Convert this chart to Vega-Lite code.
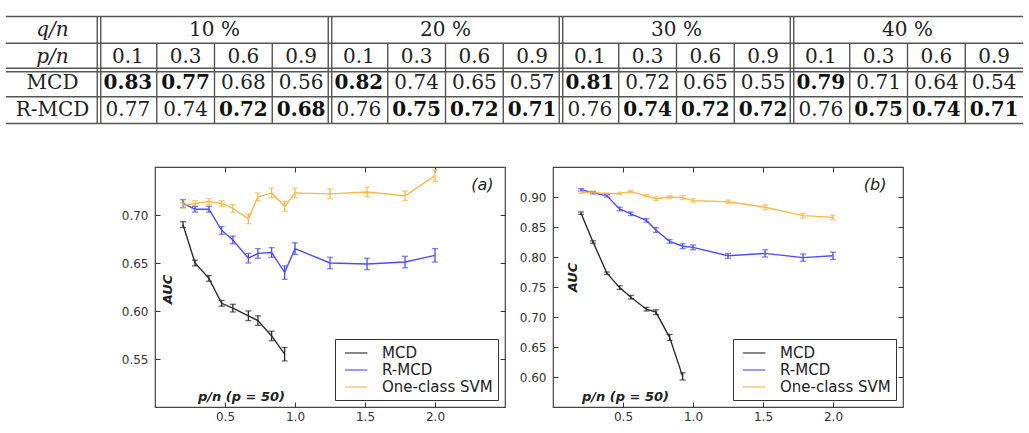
{
  "$schema": "https://vega.github.io/schema/vega-lite/v6.json",
  "background": "white",
  "padding": {"left": 5, "top": 15.5, "right": 0, "bottom": 0},
  "spacing": 40.5,
  "config": {
    "view": {"stroke": "#444", "strokeWidth": 1.2},
    "font": "DejaVu Sans",
    "axis": {
      "labelFont": "DejaVu Sans",
      "labelFontSize": 12,
      "labelColor": "#333",
      "tickColor": "#333",
      "tickSize": -5,
      "grid": false,
      "domain": false,
      "titleFont": "DejaVu Sans",
      "titleColor": "#222"
    },
    "axisX": {"labelPadding": 9},
    "axisY": {"labelPadding": 12},
    "legend": {
      "title": null,
      "orient": "bottom-right",
      "offset": 7,
      "symbolType": "M-0.5,0H2.3",
      "symbolSize": 256,
      "symbolStrokeWidth": 1.6,
      "labelFont": "DejaVu Sans",
      "labelFontSize": 15,
      "labelColor": "#222",
      "labelOffset": 24,
      "rowPadding": 0,
      "padding": 5,
      "strokeColor": "#333",
      "fillColor": "white",
      "labelLimit": 300
    }
  },
  "datasets": {
    "rows": [
      {"label": "q/n"},
      {"label": "p/n"},
      {"label": "MCD"},
      {"label": "R-MCD"}
    ],
    "table": [
      {"method": "MCD", "q": "10 %", "p": "0.1", "auc": 0.83},
      {"method": "MCD", "q": "10 %", "p": "0.3", "auc": 0.77},
      {"method": "MCD", "q": "10 %", "p": "0.6", "auc": 0.68},
      {"method": "MCD", "q": "10 %", "p": "0.9", "auc": 0.56},
      {"method": "MCD", "q": "20 %", "p": "0.1", "auc": 0.82},
      {"method": "MCD", "q": "20 %", "p": "0.3", "auc": 0.74},
      {"method": "MCD", "q": "20 %", "p": "0.6", "auc": 0.65},
      {"method": "MCD", "q": "20 %", "p": "0.9", "auc": 0.57},
      {"method": "MCD", "q": "30 %", "p": "0.1", "auc": 0.81},
      {"method": "MCD", "q": "30 %", "p": "0.3", "auc": 0.72},
      {"method": "MCD", "q": "30 %", "p": "0.6", "auc": 0.65},
      {"method": "MCD", "q": "30 %", "p": "0.9", "auc": 0.55},
      {"method": "MCD", "q": "40 %", "p": "0.1", "auc": 0.79},
      {"method": "MCD", "q": "40 %", "p": "0.3", "auc": 0.71},
      {"method": "MCD", "q": "40 %", "p": "0.6", "auc": 0.64},
      {"method": "MCD", "q": "40 %", "p": "0.9", "auc": 0.54},
      {"method": "R-MCD", "q": "10 %", "p": "0.1", "auc": 0.77},
      {"method": "R-MCD", "q": "10 %", "p": "0.3", "auc": 0.74},
      {"method": "R-MCD", "q": "10 %", "p": "0.6", "auc": 0.72},
      {"method": "R-MCD", "q": "10 %", "p": "0.9", "auc": 0.68},
      {"method": "R-MCD", "q": "20 %", "p": "0.1", "auc": 0.76},
      {"method": "R-MCD", "q": "20 %", "p": "0.3", "auc": 0.75},
      {"method": "R-MCD", "q": "20 %", "p": "0.6", "auc": 0.72},
      {"method": "R-MCD", "q": "20 %", "p": "0.9", "auc": 0.71},
      {"method": "R-MCD", "q": "30 %", "p": "0.1", "auc": 0.76},
      {"method": "R-MCD", "q": "30 %", "p": "0.3", "auc": 0.74},
      {"method": "R-MCD", "q": "30 %", "p": "0.6", "auc": 0.72},
      {"method": "R-MCD", "q": "30 %", "p": "0.9", "auc": 0.72},
      {"method": "R-MCD", "q": "40 %", "p": "0.1", "auc": 0.76},
      {"method": "R-MCD", "q": "40 %", "p": "0.3", "auc": 0.75},
      {"method": "R-MCD", "q": "40 %", "p": "0.6", "auc": 0.74},
      {"method": "R-MCD", "q": "40 %", "p": "0.9", "auc": 0.71}
    ],
    "a": [
      {"method": "MCD", "pn": 0.2, "auc": 0.690, "err": 0.003},
      {"method": "MCD", "pn": 0.286, "auc": 0.650, "err": 0.003},
      {"method": "MCD", "pn": 0.385, "auc": 0.634, "err": 0.003},
      {"method": "MCD", "pn": 0.476, "auc": 0.608, "err": 0.003},
      {"method": "MCD", "pn": 0.556, "auc": 0.603, "err": 0.004},
      {"method": "MCD", "pn": 0.667, "auc": 0.595, "err": 0.005},
      {"method": "MCD", "pn": 0.735, "auc": 0.590, "err": 0.005},
      {"method": "MCD", "pn": 0.833, "auc": 0.574, "err": 0.005},
      {"method": "MCD", "pn": 0.926, "auc": 0.555, "err": 0.007},
      {"method": "R-MCD", "pn": 0.2, "auc": 0.712, "err": 0.004},
      {"method": "R-MCD", "pn": 0.286, "auc": 0.706, "err": 0.003},
      {"method": "R-MCD", "pn": 0.385, "auc": 0.706, "err": 0.003},
      {"method": "R-MCD", "pn": 0.476, "auc": 0.684, "err": 0.004},
      {"method": "R-MCD", "pn": 0.556, "auc": 0.674, "err": 0.004},
      {"method": "R-MCD", "pn": 0.667, "auc": 0.655, "err": 0.005},
      {"method": "R-MCD", "pn": 0.735, "auc": 0.660, "err": 0.005},
      {"method": "R-MCD", "pn": 0.833, "auc": 0.661, "err": 0.005},
      {"method": "R-MCD", "pn": 0.926, "auc": 0.640, "err": 0.007},
      {"method": "R-MCD", "pn": 1.0, "auc": 0.665, "err": 0.006},
      {"method": "R-MCD", "pn": 1.25, "auc": 0.650, "err": 0.006},
      {"method": "R-MCD", "pn": 1.515, "auc": 0.649, "err": 0.006},
      {"method": "R-MCD", "pn": 1.786, "auc": 0.651, "err": 0.006},
      {"method": "R-MCD", "pn": 2.0, "auc": 0.658, "err": 0.007},
      {"method": "One-class SVM", "pn": 0.2, "auc": 0.710, "err": 0.003},
      {"method": "One-class SVM", "pn": 0.286, "auc": 0.712, "err": 0.003},
      {"method": "One-class SVM", "pn": 0.385, "auc": 0.714, "err": 0.003},
      {"method": "One-class SVM", "pn": 0.476, "auc": 0.712, "err": 0.003},
      {"method": "One-class SVM", "pn": 0.556, "auc": 0.707, "err": 0.004},
      {"method": "One-class SVM", "pn": 0.667, "auc": 0.696, "err": 0.005},
      {"method": "One-class SVM", "pn": 0.735, "auc": 0.719, "err": 0.004},
      {"method": "One-class SVM", "pn": 0.833, "auc": 0.723, "err": 0.005},
      {"method": "One-class SVM", "pn": 0.926, "auc": 0.709, "err": 0.005},
      {"method": "One-class SVM", "pn": 1.0, "auc": 0.723, "err": 0.005},
      {"method": "One-class SVM", "pn": 1.25, "auc": 0.722, "err": 0.005},
      {"method": "One-class SVM", "pn": 1.515, "auc": 0.724, "err": 0.005},
      {"method": "One-class SVM", "pn": 1.786, "auc": 0.720, "err": 0.005},
      {"method": "One-class SVM", "pn": 2.0, "auc": 0.741, "err": 0.006}
    ],
    "b": [
      {"method": "MCD", "pn": 0.2, "auc": 0.873, "err": 0.002},
      {"method": "MCD", "pn": 0.286, "auc": 0.825, "err": 0.002},
      {"method": "MCD", "pn": 0.385, "auc": 0.773, "err": 0.002},
      {"method": "MCD", "pn": 0.476, "auc": 0.749, "err": 0.003},
      {"method": "MCD", "pn": 0.556, "auc": 0.733, "err": 0.003},
      {"method": "MCD", "pn": 0.667, "auc": 0.713, "err": 0.003},
      {"method": "MCD", "pn": 0.735, "auc": 0.708, "err": 0.004},
      {"method": "MCD", "pn": 0.833, "auc": 0.666, "err": 0.005},
      {"method": "MCD", "pn": 0.926, "auc": 0.601, "err": 0.006},
      {"method": "R-MCD", "pn": 0.2, "auc": 0.912, "err": 0.002},
      {"method": "R-MCD", "pn": 0.286, "auc": 0.907, "err": 0.002},
      {"method": "R-MCD", "pn": 0.385, "auc": 0.902, "err": 0.002},
      {"method": "R-MCD", "pn": 0.476, "auc": 0.880, "err": 0.003},
      {"method": "R-MCD", "pn": 0.556, "auc": 0.872, "err": 0.003},
      {"method": "R-MCD", "pn": 0.667, "auc": 0.861, "err": 0.003},
      {"method": "R-MCD", "pn": 0.735, "auc": 0.845, "err": 0.004},
      {"method": "R-MCD", "pn": 0.833, "auc": 0.826, "err": 0.003},
      {"method": "R-MCD", "pn": 0.926, "auc": 0.818, "err": 0.004},
      {"method": "R-MCD", "pn": 1.0, "auc": 0.816, "err": 0.004},
      {"method": "R-MCD", "pn": 1.25, "auc": 0.802, "err": 0.004},
      {"method": "R-MCD", "pn": 1.515, "auc": 0.806, "err": 0.006},
      {"method": "R-MCD", "pn": 1.786, "auc": 0.799, "err": 0.006},
      {"method": "R-MCD", "pn": 2.0, "auc": 0.802, "err": 0.006},
      {"method": "One-class SVM", "pn": 0.2, "auc": 0.908, "err": 0.002},
      {"method": "One-class SVM", "pn": 0.286, "auc": 0.908, "err": 0.002},
      {"method": "One-class SVM", "pn": 0.385, "auc": 0.905, "err": 0.002},
      {"method": "One-class SVM", "pn": 0.476, "auc": 0.906, "err": 0.002},
      {"method": "One-class SVM", "pn": 0.556, "auc": 0.909, "err": 0.002},
      {"method": "One-class SVM", "pn": 0.667, "auc": 0.902, "err": 0.002},
      {"method": "One-class SVM", "pn": 0.735, "auc": 0.897, "err": 0.003},
      {"method": "One-class SVM", "pn": 0.833, "auc": 0.900, "err": 0.002},
      {"method": "One-class SVM", "pn": 0.926, "auc": 0.899, "err": 0.003},
      {"method": "One-class SVM", "pn": 1.0, "auc": 0.894, "err": 0.003},
      {"method": "One-class SVM", "pn": 1.25, "auc": 0.892, "err": 0.003},
      {"method": "One-class SVM", "pn": 1.515, "auc": 0.883, "err": 0.004},
      {"method": "One-class SVM", "pn": 1.786, "auc": 0.869, "err": 0.004},
      {"method": "One-class SVM", "pn": 2.0, "auc": 0.866, "err": 0.004}
    ]
  },
  "vconcat": [
    {
      "bounds": "flush",
      "spacing": 0,
      "hconcat": [
        {
          "width": 93,
          "height": 107,
          "view": {"stroke": null},
          "data": {"name": "rows"},
          "layer": [
            {
              "transform": [{"filter": "datum.label === 'q/n' || datum.label === 'p/n'"}],
              "mark": {"type": "text", "font": "DejaVu Serif", "fontSize": 20, "fontStyle": "italic", "color": "#222"},
              "encoding": {
                "y": {"field": "label", "type": "nominal", "scale": {"domain": ["q/n", "p/n", "MCD", "R-MCD"], "paddingInner": 0, "paddingOuter": 0}, "axis": null},
                "text": {"field": "label"}
              }
            },
            {
              "transform": [{"filter": "datum.label === 'MCD' || datum.label === 'R-MCD'"}],
              "mark": {"type": "text", "font": "DejaVu Serif", "fontSize": 20, "color": "#222"},
              "encoding": {
                "y": {"field": "label", "type": "nominal", "axis": null},
                "text": {"field": "label"}
              }
            },
            {
              "transform": [{"filter": "datum.label !== 'MCD'"}],
              "mark": {"type": "rule", "color": "#555", "strokeWidth": 1.4},
              "encoding": {"y": {"field": "label", "type": "nominal", "bandPosition": 0, "axis": null}}
            },
            {
              "transform": [{"filter": "datum.label === 'MCD'"}],
              "mark": {"type": "rule", "color": "#555", "strokeWidth": 1.4, "yOffset": -1.75},
              "encoding": {"y": {"field": "label", "type": "nominal", "bandPosition": 0, "axis": null}}
            },
            {
              "transform": [{"filter": "datum.label === 'MCD'"}],
              "mark": {"type": "rule", "color": "#555", "strokeWidth": 1.4, "yOffset": 1.75},
              "encoding": {"y": {"field": "label", "type": "nominal", "bandPosition": 0, "axis": null}}
            },
            {
              "transform": [{"filter": "datum.label === 'R-MCD'"}],
              "mark": {"type": "rule", "color": "#555", "strokeWidth": 1.4},
              "encoding": {"y": {"field": "label", "type": "nominal", "bandPosition": 1, "axis": null}}
            }
          ]
        },
        {
          "width": 924,
          "height": 107,
          "view": {"stroke": null},
          "layer": [
            {
              "data": {"name": "rows"},
              "transform": [{"filter": "datum.label !== 'MCD'"}],
              "mark": {"type": "rule", "color": "#555", "strokeWidth": 1.4},
              "encoding": {"y": {"field": "label", "type": "nominal", "bandPosition": 0, "scale": {"domain": ["q/n", "p/n", "MCD", "R-MCD"], "paddingInner": 0, "paddingOuter": 0}, "axis": null}}
            },
            {
              "data": {"name": "rows"},
              "transform": [{"filter": "datum.label === 'MCD'"}],
              "mark": {"type": "rule", "color": "#555", "strokeWidth": 1.4, "yOffset": -1.75},
              "encoding": {"y": {"field": "label", "type": "nominal", "bandPosition": 0, "axis": null}}
            },
            {
              "data": {"name": "rows"},
              "transform": [{"filter": "datum.label === 'MCD'"}],
              "mark": {"type": "rule", "color": "#555", "strokeWidth": 1.4, "yOffset": 1.75},
              "encoding": {"y": {"field": "label", "type": "nominal", "bandPosition": 0, "axis": null}}
            },
            {
              "data": {"name": "rows"},
              "transform": [{"filter": "datum.label === 'R-MCD'"}],
              "mark": {"type": "rule", "color": "#555", "strokeWidth": 1.4},
              "encoding": {"y": {"field": "label", "type": "nominal", "bandPosition": 1, "axis": null}}
            },
            {
              "data": {"name": "table"},
              "transform": [
                {"calculate": "datum.q + ' ' + datum.p", "as": "col"},
                {"joinaggregate": [{"op": "max", "field": "auc", "as": "best"}], "groupby": ["q", "p"]}
              ],
              "encoding": {
                "x": {"field": "col", "type": "nominal", "scale": {"paddingInner": 0, "paddingOuter": 0}, "axis": null}
              },
              "layer": [
                {
                  "transform": [{"filter": "datum.method === 'MCD' && datum.p === '0.1'"}],
                  "mark": {"type": "rule", "color": "#555", "strokeWidth": 1.4, "xOffset": -1.75},
                  "encoding": {"x": {"field": "col", "type": "nominal", "bandPosition": 0}}
                },
                {
                  "transform": [{"filter": "datum.method === 'MCD' && datum.p === '0.1'"}],
                  "mark": {"type": "rule", "color": "#555", "strokeWidth": 1.4, "xOffset": 1.75},
                  "encoding": {"x": {"field": "col", "type": "nominal", "bandPosition": 0}}
                },
                {
                  "transform": [{"filter": "datum.method === 'MCD' && datum.p !== '0.1'"}],
                  "mark": {"type": "rule", "color": "#555", "strokeWidth": 1.4},
                  "encoding": {
                    "x": {"field": "col", "type": "nominal", "bandPosition": 0},
                    "y": {"datum": "p/n", "type": "nominal", "bandPosition": 0},
                    "y2": {"datum": "R-MCD", "bandPosition": 1}
                  }
                },
                {
                  "transform": [{"filter": "datum.method === 'MCD' && datum.p === '0.6'"}],
                  "mark": {"type": "text", "font": "DejaVu Serif", "fontSize": 20, "color": "#222"},
                  "encoding": {
                    "x": {"field": "col", "type": "nominal", "bandPosition": 0},
                    "y": {"datum": "q/n", "type": "nominal"},
                    "text": {"field": "q"}
                  }
                },
                {
                  "transform": [{"filter": "datum.method === 'MCD'"}],
                  "mark": {"type": "text", "font": "DejaVu Serif", "fontSize": 20, "color": "#222"},
                  "encoding": {
                    "y": {"datum": "p/n", "type": "nominal"},
                    "text": {"field": "p"}
                  }
                },
                {
                  "transform": [{"filter": "datum.auc !== datum.best"}],
                  "mark": {"type": "text", "font": "DejaVu Serif", "fontSize": 20, "color": "#222"},
                  "encoding": {
                    "y": {"field": "method", "type": "nominal"},
                    "text": {"field": "auc", "format": ".2f"}
                  }
                },
                {
                  "transform": [{"filter": "datum.auc === datum.best"}],
                  "mark": {"type": "text", "font": "DejaVu Serif", "fontSize": 20, "fontWeight": "bold", "color": "#111"},
                  "encoding": {
                    "y": {"field": "method", "type": "nominal"},
                    "text": {"field": "auc", "format": ".2f"}
                  }
                }
              ]
            }
          ]
        }
      ]
    },
    {
      "bounds": "flush",
      "spacing": 48,
      "resolve": {"scale": {"color": "independent"}, "legend": {"color": "independent"}},
      "hconcat": [
        {
          "width": 101,
          "height": 240,
          "view": {"stroke": null},
          "data": {"values": []},
          "mark": "point"
        },
        {
          "width": 350,
          "height": 240,
          "data": {"name": "a"},
          "title": {"text": "(a)", "anchor": "end", "orient": "top", "offset": 0, "baseline": "alphabetic", "dy": 39, "dx": -12, "fontSize": 16, "fontStyle": "italic", "fontWeight": "normal", "font": "DejaVu Sans", "color": "#222"},
          "encoding": {
            "color": {
              "field": "method", "type": "nominal",
              "scale": {"domain": ["MCD", "R-MCD", "One-class SVM"], "range": ["#2b2b2b", "#4d4dff", "#fcb84a"]}
            }
          },
          "layer": [
            {
              "mark": {"type": "line", "strokeWidth": 1.4},
              "encoding": {
                "x": {"field": "pn", "type": "quantitative", "scale": {"domain": [0, 2.5], "nice": false, "zero": false},
                  "axis": {"values": [0.5, 1, 1.5, 2], "format": ".1f", "title": "p/n (p = 50)", "titleX": 86, "titleY": -7, "titleBaseline": "alphabetic", "titleAlign": "center", "titleFontStyle": "italic", "titleFontWeight": "bold", "titleFontSize": 13}},
                "y": {"field": "auc", "type": "quantitative", "scale": {"domain": [0.5, 0.75], "nice": false, "zero": false},
                  "axis": {"values": [0.55, 0.6, 0.65, 0.7], "format": ".2f", "title": "AUC", "titleX": 16.5, "titleY": 122, "titleAngle": -90, "titleBaseline": "alphabetic", "titleAlign": "center", "titleFontStyle": "italic", "titleFontWeight": "bold", "titleFontSize": 13}}
              }
            },
            {
              "mark": {"type": "errorbar", "ticks": {"size": 6}, "thickness": 1.3},
              "encoding": {
                "x": {"field": "pn", "type": "quantitative", "axis": {"orient": "top", "values": [0.5, 1, 1.5, 2], "labels": false, "title": null}},
                "y": {"field": "auc", "type": "quantitative", "axis": {"orient": "right", "values": [0.55, 0.6, 0.65, 0.7], "labels": false, "title": null}},
                "yError": {"field": "err"}
              }
            }
          ],
          "resolve": {"axis": {"x": "independent", "y": "independent"}}
        },
        {
          "width": 350,
          "height": 240,
          "data": {"name": "b"},
          "title": {"text": "(b)", "anchor": "end", "orient": "top", "offset": 0, "baseline": "alphabetic", "dy": 39, "dx": -17, "fontSize": 16, "fontStyle": "italic", "fontWeight": "normal", "font": "DejaVu Sans", "color": "#222"},
          "encoding": {
            "color": {
              "field": "method", "type": "nominal",
              "scale": {"domain": ["MCD", "R-MCD", "One-class SVM"], "range": ["#2b2b2b", "#4d4dff", "#fcb84a"]}
            }
          },
          "layer": [
            {
              "mark": {"type": "line", "strokeWidth": 1.4},
              "encoding": {
                "x": {"field": "pn", "type": "quantitative", "scale": {"domain": [0, 2.5], "nice": false, "zero": false},
                  "axis": {"values": [0.5, 1, 1.5, 2], "format": ".1f", "title": "p/n (p = 50)", "titleX": 72, "titleY": -7, "titleBaseline": "alphabetic", "titleAlign": "center", "titleFontStyle": "italic", "titleFontWeight": "bold", "titleFontSize": 13}},
                "y": {"field": "auc", "type": "quantitative", "scale": {"domain": [0.55, 0.95], "nice": false, "zero": false},
                  "axis": {"values": [0.6, 0.65, 0.7, 0.75, 0.8, 0.85, 0.9], "format": ".2f", "title": "AUC", "titleX": 23, "titleY": 110, "titleAngle": -90, "titleBaseline": "alphabetic", "titleAlign": "center", "titleFontStyle": "italic", "titleFontWeight": "bold", "titleFontSize": 13}}
              }
            },
            {
              "mark": {"type": "errorbar", "ticks": {"size": 6}, "thickness": 1.3},
              "encoding": {
                "x": {"field": "pn", "type": "quantitative", "axis": {"orient": "top", "values": [0.5, 1, 1.5, 2], "labels": false, "title": null}},
                "y": {"field": "auc", "type": "quantitative", "axis": {"orient": "right", "values": [0.6, 0.65, 0.7, 0.75, 0.8, 0.85, 0.9], "labels": false, "title": null}},
                "yError": {"field": "err"}
              }
            }
          ],
          "resolve": {"axis": {"x": "independent", "y": "independent"}}
        }
      ]
    }
  ]
}
